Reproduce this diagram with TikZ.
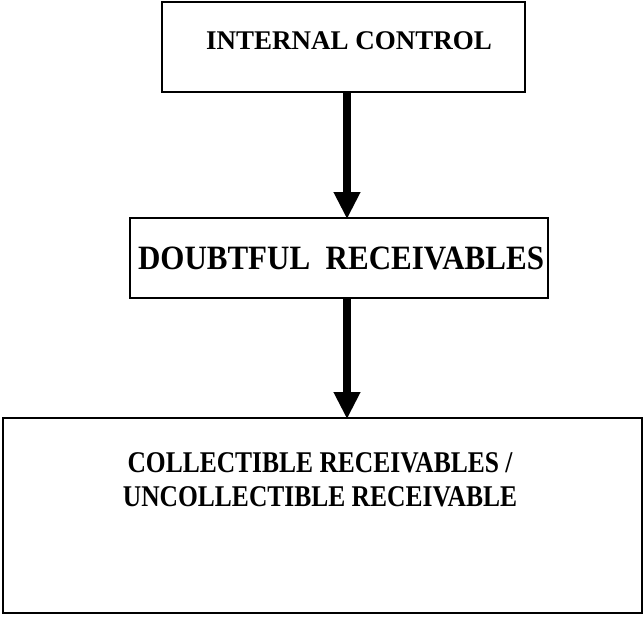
\documentclass[tikz,border=0pt]{standalone}
\usepackage{fontspec}
\setmainfont{Liberation Serif}
\usetikzlibrary{arrows.meta}
\begin{document}
\begin{tikzpicture}[x=1pt,y=-1pt,
  box/.style={draw=black,line width=1.8pt,minimum width=#1,inner sep=0pt},
  txt/.style={align=center,inner sep=0pt},
  arr/.style={line width=8.5pt,-{Triangle[width=25pt,length=27pt]},shorten >=-2pt}]
\useasboundingbox (0,0) rectangle (644,616);
\node[box=363pt,minimum height=90pt] (b1) at (343.5,47) {};
\node[box=418pt,minimum height=80pt] (b2) at (339,258) {};
\node[box=639pt,minimum height=195pt] (b3) at (322.5,515.5) {};
\node[txt,font=\fontsize{27}{32}\selectfont\bfseries] (t1) at (349,41) {INTERNAL CONTROL};
\node[txt,font=\fontsize{31}{36}\selectfont\bfseries] (t2) at (341,258) {\scalebox{1}[1.1]{DOUBTFUL\ \ RECEIVABLES}};
\node[txt,font=\fontsize{25.5}{34}\selectfont\bfseries] (t3) at (320,480) {\scalebox{1}[1.18]{COLLECTIBLE RECEIVABLES /}\\\scalebox{1}[1.18]{UNCOLLECTIBLE RECEIVABLE}};
\coordinate (ax) at (347,0);
\draw[arr] (b1.south -| ax) -- (b2.north -| ax);
\draw[arr] (b2.south -| ax) -- (b3.north -| ax);
\end{tikzpicture}
\end{document}
